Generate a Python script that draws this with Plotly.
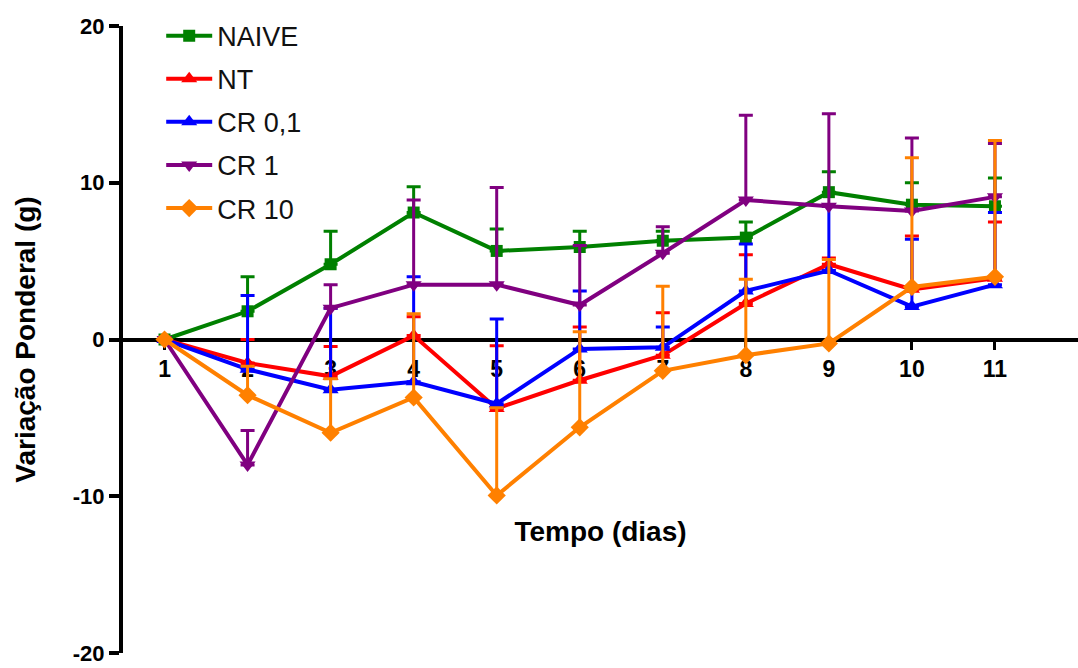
import plotly.graph_objects as go

days = [1, 2, 3, 4, 5, 6, 7, 8, 9, 10, 11]
x_tick_labels = ["1", "2", "3", "4", "5", "6", "7", "8", "9", "10", "11"]
y_tick_values = [-20, -10, 0, 10, 20]
y_tick_labels = ["-20", "-10", "0", "10", "20"]

naive = [0, 1.8, 4.8, 8.1, 5.65, 5.9, 6.3, 6.5, 9.4, 8.6, 8.5]
naive_err = [0, 2.2, 2.1, 1.65, 1.4, 1.0, 0.6, 1.0, 1.3, 1.4, 1.8]

nt = [0, -1.5, -2.35, 0.25, -4.4, -2.6, -1.0, 2.3, 4.8, 3.2, 3.9]
nt_err = [0, 1.5, 1.9, 1.2, 4.0, 3.4, 2.7, 3.1, 0.4, 3.4, 3.6]

cr01 = [0, -1.9, -3.2, -2.7, -4.1, -0.6, -0.5, 3.1, 4.4, 2.1, 3.5]
cr01_err = [0, 4.7, 5.2, 6.7, 5.4, 3.7, 1.3, 3.0, 4.1, 4.3, 4.6]

cr1 = [0, -8.0, 2.0, 3.5, 3.5, 2.2, 5.5, 8.9, 8.5, 8.2, 9.1]
cr1_err = [0, 2.2, 1.5, 5.4, 6.2, 3.8, 1.7, 5.4, 5.9, 4.65, 3.4]

cr10 = [0, -3.55, -5.95, -3.7, -9.95, -5.6, -2.0, -1.0, -0.25, 3.35, 4.0]
cr10_err = [0, 1.85, 3.45, 5.35, 5.6, 6.1, 5.4, 4.85, 5.35, 8.25, 8.7]

series = [
    ("NAIVE", naive, naive_err, "#008000", "square", 12),
    ("NT", nt, nt_err, "#FF0000", "triangle-up", 14),
    ("CR 0,1", cr01, cr01_err, "#0000FF", "triangle-up", 14),
    ("CR 1", cr1, cr1_err, "#800080", "triangle-down", 14),
    ("CR 10", cr10, cr10_err, "#FF8000", "diamond", 14),
]

fig = go.Figure()
for i, (name, vals, errs, color, sym, size) in enumerate(series):
    fig.add_trace(go.Scatter(
        x=days, y=vals, name=name, mode="lines+markers",
        legendgroup=f"g{i}",
        line=dict(color=color, width=4),
        marker=dict(color=color, symbol=sym, size=size),
        error_y=dict(type="data", symmetric=False, array=errs,
                     arrayminus=[0] * len(errs), color=color,
                     thickness=3, width=7),
    ))

font_family = "Arial, Liberation Sans, sans-serif"
fig.update_layout(
    width=1078, height=668,
    margin=dict(l=123, r=0, t=26, b=15),
    plot_bgcolor="white", paper_bgcolor="white",
    font=dict(family=font_family, color="black"),
    showlegend=True,
    legend=dict(x=0.04, y=1.023, xanchor="left", yanchor="top",
                font=dict(size=27, color="#111111"), tracegroupgap=5,
                bgcolor="rgba(0,0,0,0)", itemwidth=46),
    xaxis=dict(range=[0.5, 12], tickvals=days,
               ticktext=[f"<b>{t}</b>" for t in x_tick_labels],
               showgrid=False, zeroline=False, showline=True,
               linecolor="black", linewidth=4, ticks="outside",
               ticklen=8, tickwidth=3, tickcolor="black",
               anchor="free", position=0.5, layer="below traces",
               automargin=False,
               tickfont=dict(size=23),
               title=dict(text="<b>Tempo (dias)</b>", font=dict(size=28),
                          standoff=139)),
    yaxis=dict(range=[-20, 20], tickvals=y_tick_values,
               ticktext=[f"<b>{t}</b>" for t in y_tick_labels],
               showgrid=False, zeroline=False, showline=True,
               linecolor="black", linewidth=4, ticks="outside",
               ticklen=10, tickwidth=4, tickcolor="black",
               automargin=False, ticklabeloverflow="allow",
               tickfont=dict(size=22),
               title=dict(text="<b>Variação Ponderal (g)</b>",
                          font=dict(size=28), standoff=30)),
)

fig.write_html("out.html", config={"displayModeBar": False},
               post_script="document.body.style.margin='0';")
